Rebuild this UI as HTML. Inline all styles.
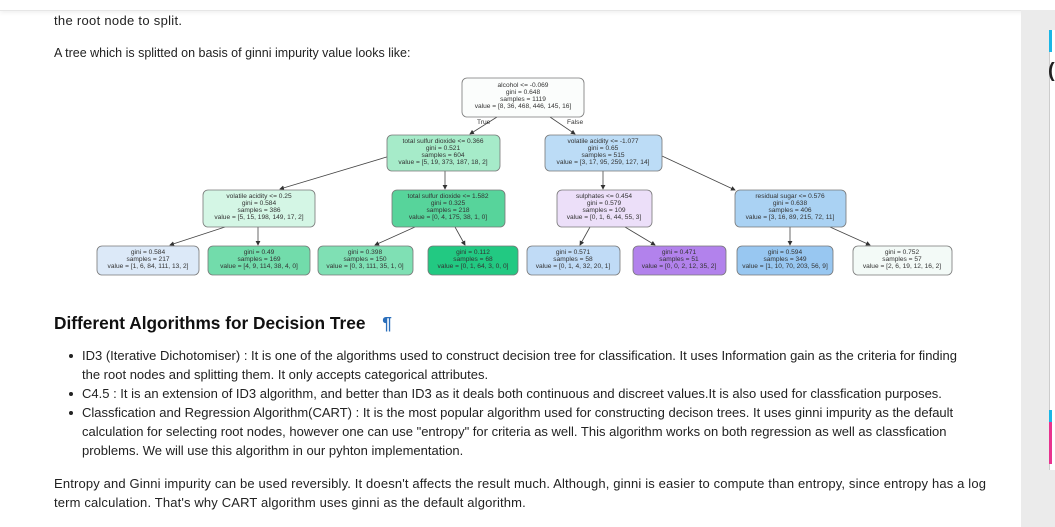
<!DOCTYPE html>
<html><head><meta charset="utf-8"><style>
*{margin:0;padding:0}
body{width:1055px;height:527px;overflow:hidden;background:#fff;font-family:"Liberation Sans",Arial,sans-serif;color:#222;position:relative}
.t{position:absolute;font-size:12.5px;white-space:nowrap;left:54px}
.topbar{position:absolute;left:0;top:0;width:1055px;height:10px;background:#fff;border-bottom:1px solid #e6e6e6;box-shadow:0 2px 4px rgba(0,0,0,.06)}
.side{position:absolute;left:1021px;top:10px;width:34px;height:517px;background:#ebebeb}
.card{position:absolute;left:1049px;top:30px;width:6px;height:440px;background:#fff;border-left:1px solid #ccc}
li{position:absolute;left:82px;font-size:13px;list-style:none;line-height:19px;white-space:nowrap}
li:before{content:"";position:absolute;left:-13px;top:8px;width:4px;height:4px;border-radius:50%;background:#222}
</style></head><body>
<div class="topbar"></div>
<div class="side"></div>
<div class="card"></div>
<div style="position:absolute;left:1049px;top:30px;width:3px;height:22px;background:#1ab6e6"></div>
<div style="position:absolute;left:1049px;top:410px;width:3px;height:12px;background:#1ab6e6"></div>
<div style="position:absolute;left:1049px;top:422px;width:3px;height:42px;background:#e8338f"></div>
<div style="position:absolute;left:1048px;top:60px;font:bold 20px 'Liberation Sans';">(</div>
<div class="t" style="top:13px;font-size:13px;letter-spacing:0.3px">the root node to split.</div>
<div class="t" style="top:46px">A tree which is splitted on basis of ginni impurity value looks like:</div>
<svg style="position:absolute;left:0;top:0" width="1055" height="300" font-family="Liberation Sans,Arial,sans-serif" font-size="6.6" fill="#333">
<defs><marker id="a" markerWidth="6" markerHeight="6" refX="5" refY="3" orient="auto"><path d="M0,0L6,3L0,6z" fill="#333"/></marker></defs>
<g stroke="#444" stroke-width="0.8" marker-end="url(#a)">
<line x1="497" y1="117" x2="470" y2="134"/><line x1="550" y1="117" x2="575" y2="134"/>
<line x1="390" y1="156" x2="280" y2="189"/><line x1="445" y1="171" x2="445" y2="189"/>
<line x1="603" y1="171" x2="603" y2="189"/><line x1="662" y1="156" x2="735" y2="190"/>
<line x1="225" y1="227" x2="170" y2="245"/><line x1="258" y1="227" x2="258" y2="245"/>
<line x1="415" y1="227" x2="375" y2="245"/><line x1="455" y1="227" x2="465" y2="245"/>
<line x1="590" y1="227" x2="580" y2="245"/><line x1="625" y1="227" x2="655" y2="245"/>
<line x1="790" y1="227" x2="790" y2="245"/><line x1="830" y1="227" x2="870" y2="245"/>
</g>
<text x="477" y="124">True</text><text x="567" y="124">False</text>
<g stroke="#777" stroke-width="0.8">
<rect x="462" y="78" width="122" height="39" rx="5" fill="#fbfdfc"/>
<rect x="387" y="135" width="113" height="36" rx="5" fill="#a6ebc9"/>
<rect x="545" y="135" width="117" height="36" rx="5" fill="#bcdcf6"/>
<rect x="203" y="190" width="112" height="37" rx="5" fill="#d4f6e5"/>
<rect x="392" y="190" width="113" height="37" rx="5" fill="#57d49b"/>
<rect x="557" y="190" width="95" height="37" rx="5" fill="#ecdff9"/>
<rect x="735" y="190" width="111" height="37" rx="5" fill="#aad2f3"/>
<rect x="97" y="246" width="102" height="29" rx="5" fill="#dce9f8"/>
<rect x="208" y="246" width="102" height="29" rx="5" fill="#72dcab"/>
<rect x="318" y="246" width="95" height="29" rx="5" fill="#7fe0b4"/>
<rect x="428" y="246" width="90" height="29" rx="5" fill="#22c982"/>
<rect x="527" y="246" width="93" height="29" rx="5" fill="#c0dbf6"/>
<rect x="633" y="246" width="93" height="29" rx="5" fill="#b282ec"/>
<rect x="737" y="246" width="96" height="29" rx="5" fill="#98c7f1"/>
<rect x="853" y="246" width="99" height="29" rx="5" fill="#f3faf7"/>
</g>
<g text-anchor="middle">
<text x="523" y="87">alcohol &lt;= -0.069</text><text x="523" y="94">gini = 0.648</text><text x="523" y="101">samples = 1119</text><text x="523" y="108">value = [8, 36, 468, 446, 145, 16]</text>
<text x="443" y="143">total sulfur dioxide &lt;= 0.366</text><text x="443" y="150">gini = 0.521</text><text x="443" y="157">samples = 604</text><text x="443" y="164">value = [5, 19, 373, 187, 18, 2]</text>
<text x="603" y="143">volatile acidity &lt;= -1.077</text><text x="603" y="150">gini = 0.65</text><text x="603" y="157">samples = 515</text><text x="603" y="164">value = [3, 17, 95, 259, 127, 14]</text>
<text x="259" y="198">volatile acidity &lt;= 0.25</text><text x="259" y="205">gini = 0.584</text><text x="259" y="212">samples = 386</text><text x="259" y="219">value = [5, 15, 198, 149, 17, 2]</text>
<text x="448" y="198">total sulfur dioxide &lt;= 1.582</text><text x="448" y="205">gini = 0.325</text><text x="448" y="212">samples = 218</text><text x="448" y="219">value = [0, 4, 175, 38, 1, 0]</text>
<text x="604" y="198">sulphates &lt;= 0.454</text><text x="604" y="205">gini = 0.579</text><text x="604" y="212">samples = 109</text><text x="604" y="219">value = [0, 1, 6, 44, 55, 3]</text>
<text x="790" y="198">residual sugar &lt;= 0.576</text><text x="790" y="205">gini = 0.638</text><text x="790" y="212">samples = 406</text><text x="790" y="219">value = [3, 16, 89, 215, 72, 11]</text>
<text x="148" y="254">gini = 0.584</text><text x="148" y="261">samples = 217</text><text x="148" y="268">value = [1, 6, 84, 111, 13, 2]</text>
<text x="259" y="254">gini = 0.49</text><text x="259" y="261">samples = 169</text><text x="259" y="268">value = [4, 9, 114, 38, 4, 0]</text>
<text x="365" y="254">gini = 0.398</text><text x="365" y="261">samples = 150</text><text x="365" y="268">value = [0, 3, 111, 35, 1, 0]</text>
<text x="473" y="254">gini = 0.112</text><text x="473" y="261">samples = 68</text><text x="473" y="268">value = [0, 1, 64, 3, 0, 0]</text>
<text x="573" y="254">gini = 0.571</text><text x="573" y="261">samples = 58</text><text x="573" y="268">value = [0, 1, 4, 32, 20, 1]</text>
<text x="679" y="254">gini = 0.471</text><text x="679" y="261">samples = 51</text><text x="679" y="268">value = [0, 0, 2, 12, 35, 2]</text>
<text x="785" y="254">gini = 0.594</text><text x="785" y="261">samples = 349</text><text x="785" y="268">value = [1, 10, 70, 203, 56, 9]</text>
<text x="902" y="254">gini = 0.752</text><text x="902" y="261">samples = 57</text><text x="902" y="268">value = [2, 6, 19, 12, 16, 2]</text>
</g>
</svg>
<div style="position:absolute;left:54px;top:313px;font-size:17.3px;font-weight:bold;color:#111">Different Algorithms for Decision Tree <span style="color:#2a6ebb;margin-left:12px">¶</span></div>
<ul>
<li style="top:346px">ID3 (Iterative Dichotomiser) : It is one of the algorithms used to construct decision tree for classification. It uses Information gain as the criteria for finding<br>the root nodes and splitting them. It only accepts categorical attributes.</li>
<li style="top:384px">C4.5 : It is an extension of ID3 algorithm, and better than ID3 as it deals both continuous and discreet values.It is also used for classfication purposes.</li>
<li style="top:403px">Classfication and Regression Algorithm(CART) : It is the most popular algorithm used for constructing decison trees. It uses ginni impurity as the default<br>calculation for selecting root nodes, however one can use "entropy" for criteria as well. This algorithm works on both regression as well as classfication<br>problems. We will use this algorithm in our pyhton implementation.</li>
</ul>
<div style="position:absolute;left:54px;top:474px;font-size:13px;letter-spacing:0.15px;line-height:19px;white-space:nowrap">Entropy and Ginni impurity can be used reversibly. It doesn't affects the result much. Although, ginni is easier to compute than entropy, since entropy has a log<br>term calculation. That's why CART algorithm uses ginni as the default algorithm.</div>
</body></html>
